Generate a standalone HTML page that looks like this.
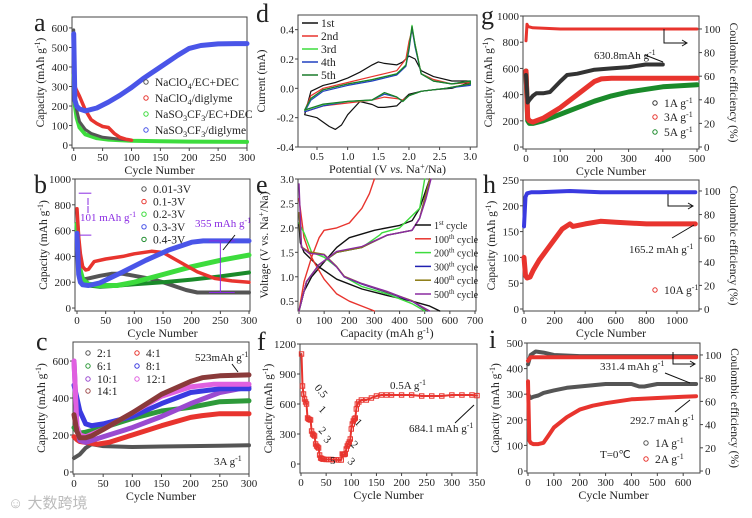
<!DOCTYPE html>
<html><head><meta charset="utf-8">
<style>
body{margin:0;background:#fff;width:752px;height:518px;overflow:hidden}
svg{display:block;font-family:"Liberation Serif",serif}
</style></head>
<body>
<svg id="fig" width="752" height="518" viewBox="0 0 752 518" xmlns="http://www.w3.org/2000/svg">
<text x="8" y="508" font-family="'Liberation Sans','Noto Sans CJK SC',sans-serif" font-size="15" fill="#bbb">☺ 大数跨境</text>
</svg>
<script>
// ---------- DATA ----------
// panel a
const aBlackX=[0,2,5,10,20,30,50,80,100];
const aBlackY=[590,250,180,120,80,60,40,30,25];
const aRedX=[0,2,5,10,20,30,40,50,60,70,80,90,100];
const aRedY=[480,300,280,250,180,130,110,95,90,60,40,30,25];
const aGreenX=[0,2,5,10,20,40,60,100,150,200,250,300];
const aGreenY=[360,200,140,90,55,35,28,22,20,18,17,16];
const aBlueX=[0,2,5,10,20,40,60,80,100,120,150,180,200,220,250,280,300];
const aBlueY=[570,230,200,185,175,190,220,255,295,340,400,460,495,510,518,520,520];
// panel b
const bBlackX=[0,5,10,20,40,60,80,100,130,150,170,190,210,250,300];
const bBlackY=[450,280,220,230,250,265,265,250,225,200,170,140,120,120,120];
const bRedX=[0,3,6,10,15,20,30,50,80,100,130,150,170,190,210,240,270,300];
const bRedY=[770,550,420,320,295,300,360,380,400,420,440,430,380,330,280,230,210,200];
const bGreenX=[0,5,10,20,40,70,100,150,200,250,300];
const bGreenY=[650,300,220,185,175,175,200,260,320,370,410];
const bBlueX=[0,3,6,10,20,40,80,120,160,200,220,250,300];
const bBlueY=[580,260,200,180,175,195,280,370,450,510,520,520,520];
const bDkX=[0,5,10,20,40,60,100,150,200,250,300];
const bDkY=[500,250,200,175,165,170,185,200,220,245,275];
// panel c
const cX1=[0,10,20,30,50,100,150,200,250,300]; const cY1=[75,95,130,150,140,135,138,140,142,145];
const cX2=[0,5,10,20,40,60,100,150,200,220,250,300]; const cY2=[190,175,165,160,150,160,200,250,295,305,315,315];
const cX3=[0,5,10,20,50,100,150,200,250,300]; const cY3=[240,220,210,215,240,290,330,350,380,385];
const cX4=[0,5,10,20,30,50,100,150,200,250,300]; const cY4=[470,400,330,260,250,260,300,370,430,450,450];
const cX5=[0,5,10,20,50,100,150,200,250,300]; const cY5=[600,250,170,160,190,240,300,370,430,460];
const cX6=[0,5,10,20,50,100,150,200,240,300]; const cY6=[600,250,200,190,230,320,410,460,475,475];
const cX7=[0,5,10,20,30,50,100,150,200,220,250,300]; const cY7=[310,220,185,185,195,230,320,420,490,510,520,525];
// panel d (CV loops)
const d1V=[0.3,0.4,0.6,0.8,1.0,1.2,1.4,1.5,1.6,1.8,1.9,2.0,2.1,2.2,2.4,2.7,3.0,3.0,2.7,2.4,2.2,2.0,1.9,1.8,1.6,1.5,1.4,1.2,1.0,0.9,0.8,0.7,0.5,0.3];
const d1I=[-0.18,-0.02,0.02,0.04,0.07,0.11,0.16,0.18,0.17,0.16,0.18,0.22,0.2,0.12,0.08,0.05,0.05,0.04,0.0,-0.01,-0.02,-0.04,-0.08,-0.12,-0.13,-0.13,-0.11,-0.09,-0.18,-0.25,-0.28,-0.26,-0.2,-0.18];
const d2V=[0.3,0.4,0.6,1.0,1.4,1.6,1.8,1.95,2.0,2.05,2.1,2.2,2.4,2.7,3.0,3.0,2.6,2.2,2.0,1.9,1.8,1.6,1.4,1.0,0.6,0.3];
const d2I=[-0.15,-0.05,0.0,0.04,0.08,0.1,0.12,0.2,0.32,0.4,0.3,0.1,0.06,0.03,0.04,0.03,0.0,-0.02,-0.05,-0.08,-0.07,-0.06,-0.08,-0.1,-0.12,-0.16];
const d3V=[0.3,0.4,0.6,1.0,1.4,1.6,1.8,1.95,2.0,2.05,2.1,2.2,2.4,2.7,3.0,3.0,2.6,2.2,2.0,1.9,1.8,1.6,1.4,1.0,0.6,0.3];
const d3I=[-0.15,-0.07,-0.01,0.03,0.06,0.08,0.1,0.16,0.28,0.43,0.3,0.1,0.05,0.03,0.05,0.03,0.0,-0.02,-0.05,-0.09,-0.06,-0.03,-0.08,-0.09,-0.11,-0.15];
const d4I=[-0.16,-0.08,-0.02,0.02,0.05,0.07,0.09,0.15,0.26,0.41,0.28,0.1,0.05,0.03,0.05,0.02,0.0,-0.02,-0.05,-0.09,-0.06,-0.04,-0.08,-0.09,-0.12,-0.16];
// panel e (charge/discharge)
const e1dC=[0,5,20,40,80,150,250,350,450,520,560]; const e1dV=[2.1,1.7,1.5,1.4,1.2,0.95,0.75,0.62,0.5,0.4,0.3];
const e1cC=[0,20,50,100,150,200,300,400,450,480,500,520]; const e1cV=[0.3,0.7,1.0,1.3,1.6,1.8,1.95,2.05,2.15,2.4,2.7,3.0];
const e2dC=[0,20,40,60,100,150,200,250,300]; const e2dV=[2.6,1.8,1.5,1.3,0.95,0.65,0.5,0.4,0.3];
const e2cC=[0,20,50,80,100,150,200,250,280,300]; const e2cV=[0.3,0.9,1.4,1.8,1.95,2.0,2.1,2.4,2.7,3.0];
const e3dC=[0,20,50,100,150,180,250,350,450,500]; const e3dV=[2.1,1.9,1.5,1.4,1.2,1.0,0.8,0.65,0.45,0.3];
const e3cC=[0,30,80,150,250,320,330,400,480,500]; const e3cV=[0.3,0.9,1.25,1.5,1.6,1.85,1.9,2.0,2.4,3.0];
const e4dC=[0,10,40,100,150,180,250,350,450,510]; const e4dV=[2.3,1.6,1.5,1.45,1.2,1.0,0.85,0.68,0.5,0.3];
const e4cC=[0,30,80,150,250,350,450,480,500,520]; const e4cV=[0.3,0.9,1.25,1.5,1.6,1.85,1.95,2.2,2.6,3.0];
const e6dC=[0,10,40,100,150,180,250,350,450,520]; const e6dV=[2.9,1.6,1.48,1.45,1.2,1.0,0.86,0.7,0.5,0.3];
const e6cC=[0,30,80,150,250,350,450,480,505,525]; const e6cV=[0.3,0.9,1.25,1.52,1.62,1.85,1.95,2.2,2.6,3.0];
// panel f (rate)
const fX=[1,3,5,7,9,11,13,15,17,19,21,23,25,27,29,31,33,35,37,39,41,43,45,50,55,60,65,70,75,80,82,84,86,88,90,92,94,96,98,100,102,104,106,108,110,112,115,120,130,140,150,160,170,180,200,220,240,260,280,300,320,340,350];
const fY=[1100,780,700,650,620,600,460,450,445,440,330,300,290,280,200,180,170,160,90,60,55,50,48,45,45,45,42,42,40,40,100,95,95,100,150,180,200,220,250,350,400,430,450,460,550,600,620,640,640,660,680,690,690,690,690,690,680,680,680,690,690,690,684];
// panel g
const gBX=[0,5,10,20,30,50,70,100,120,150,200,250,300,350,400]; const gBY=[550,340,360,390,410,410,420,500,550,560,590,600,610,630,630];
const gRX=[0,5,10,20,50,100,150,200,220,250,300,400,500]; const gRY=[580,220,200,190,220,300,400,500,520,525,525,525,525];
const gGX=[0,5,10,20,50,100,150,200,250,300,400,500]; const gGY=[580,200,180,180,200,250,300,350,390,420,460,475];
const gCEX=[0,3,6,20,100,200,300,400,500]; const gCEY=[90,104,102,101,100,100,100,100,100];
// panel h
const hCEX=[0,10,20,50,100,300,500,1000,1120]; const hCEY=[70,95,98,99,99,100,99,99,99];
const hRX=[0,10,20,40,60,100,150,200,250,300,320,400,500,600,800,1000,1120];
const hRY=[100,65,60,62,75,95,115,135,155,165,160,165,170,168,165,165,165];
// panel i
const iBX=[0,10,20,40,60,100,150,200,250,300,400,430,450,500,600,650]; const iBY=[300,285,290,295,305,315,325,330,335,340,340,330,330,340,340,340];
const iRX=[0,5,10,20,40,60,80,100,150,200,250,300,400,500,600,650]; const iRY=[350,120,110,105,105,110,140,170,210,240,255,265,280,285,290,292];
const iCEBX=[0,10,30,60,100,200,400,650]; const iCEBY=[92,100,103,102,100,99,99,99];
const iCERX=[0,10,30,100,300,650]; const iCERY=[95,98,98,98,98,98];

// ---------- DRAW ----------
const svg=document.getElementById('fig');
const NS='http://www.w3.org/2000/svg';
function mk(tag,at,par){const e=document.createElementNS(NS,tag);for(const k in at)e.setAttribute(k,at[k]);(par||svg).appendChild(e);return e;}
function txt(s,x,y,sz,anchor,par,rot){const t=mk('text',{x:x,y:y,'font-size':sz,'text-anchor':anchor||'start',fill:'#222'},par);if(rot)t.setAttribute('transform','rotate('+rot+' '+x+' '+y+')');t.innerHTML=s;return t;}

function panel(p){
  const g=mk('g',{});
  
  
  const sx=v=>p.x0+(v-p.xd[0])/(p.xd[1]-p.xd[0])*(p.x1-p.x0);
  const sy=v=>p.y1-(v-p.yd[0])/(p.yd[1]-p.yd[0])*(p.y1-p.y0);
  const syR=p.yR?(v=>p.y1-(v-p.yR[0])/(p.yR[1]-p.yR[0])*(p.y1-p.y0)):null;
  const box=mk('rect',{x:p.x0,y:p.y0,width:p.x1-p.x0,height:p.y1-p.y0,fill:'none',stroke:'#444','stroke-width':1},g);
  
  
  p.xt.forEach((v,i)=>{const X=sx(v);mk('line',{x1:X,x2:X,y1:p.y1,y2:p.y1+3,stroke:'#444'},g);
    const t=txt(p.xl?p.xl[i]:v,X,p.y1+13,11,'middle',g);
    
    });
  p.yt.forEach((v,i)=>{const Y=sy(v);mk('line',{x1:p.x0-3,x2:p.x0,y1:Y,y2:Y,stroke:'#444'},g);
    const t=txt(p.yl?p.yl[i]:v,p.x0-4,Y+4,11,'end',g);
    
    });
  if(p.yR){[0,20,40,60,80,100].forEach(v=>{const Y=syR(v);mk('line',{x1:p.x1,x2:p.x1+3,y1:Y,y2:Y,stroke:'#444'},g);
    const t=txt(v,p.x1+5,Y+4,11,'start',g);
    
    });
    const rt=txt('Coulombic efficiency (%)',p.x1+31,(p.y0+p.y1)/2,11.5,'middle',g,90);
    
    }
  const xt=txt(p.xtitle,(p.x0+p.x1)/2,p.y1+26,12,'middle',g);
  
  
  const yt=txt(p.ytitle,p.x0-(p.yoff||28),(p.y0+p.y1)/2,11.5,'middle',g,-90);
  
  
  const L=txt(p.id,p.lx,p.ly,26,'start',g);
  
  
  return {g,sx,sy,syR};
}
function series(P,xs,ys,col,w,name,yfun){
  const f=yfun||P.sy;
  const pts=xs.map((x,i)=>P.sx(x).toFixed(1)+','+f(ys[i]).toFixed(1)).join(' ');
  const l=mk('polyline',{points:pts,fill:'none',stroke:col,'stroke-width':w,'stroke-linejoin':'round','stroke-linecap':'round'},P.g);
  
  
  return l;
}
function legendMark(P,x,y,col,label,sz,line){
  if(line){mk('line',{x1:x-8,x2:x+8,y1:y-4,y2:y-4,stroke:col,'stroke-width':1.5},P.g);}
  else mk('circle',{cx:x,cy:y-4,r:2.2,fill:'none',stroke:col},P.g);
  const t=txt(label,x+(line?11:9),y,sz||11.5,'start',P.g);
  
  
}
const cap='Capacity (mAh g<tspan font-size="8" dy="-4">-1</tspan><tspan dy="4">)</tspan>';
const gm1=' g<tspan font-size="8" dy="-4">-1</tspan>';
const ticks300=[0,50,100,150,200,250,300];

// a
const A=panel({id:'a',x0:72,x1:247,y0:17,y1:148,xd:[-3,300],yd:[-15,656],xt:ticks300,yt:[0,100,200,300,400,500,600],xtitle:'Cycle Number',ytitle:cap,lx:34,ly:31});
series(A,aGreenX,aGreenY,'#3ddc3d',4,'series-nasoclf3-ec');
series(A,aBlackX,aBlackY,'#555',3,'series-naclo4-ec');
series(A,aRedX,aRedY,'#e8342e',3.5,'series-naclo4-diglyme');
series(A,aBlueX,aBlueY,'#4a55e8',5,'series-nasoclf3-diglyme');
legendMark(A,146,86,'#555','NaClO<tspan font-size="8" dy="3">4</tspan><tspan dy="-3">/EC+DEC</tspan>');
legendMark(A,146,102,'#e8342e','NaClO<tspan font-size="8" dy="3">4</tspan><tspan dy="-3">/diglyme</tspan>');
legendMark(A,146,118,'#3ddc3d','NaSO<tspan font-size="8" dy="3">3</tspan><tspan dy="-3">CF</tspan><tspan font-size="8" dy="3">3</tspan><tspan dy="-3">/EC+DEC</tspan>');
legendMark(A,146,134,'#4a55e8','NaSO<tspan font-size="8" dy="3">3</tspan><tspan dy="-3">CF</tspan><tspan font-size="8" dy="3">3</tspan><tspan dy="-3">/diglyme</tspan>');

// b
const B=panel({id:'b',x0:75,x1:250,y0:179,y1:311,xd:[-3.5,301.7],yd:[-23,1000],xt:ticks300,yt:[0,200,400,600,800,1000],xtitle:'Cycle Number',ytitle:cap,lx:34,ly:193});
series(B,bBlackX,bBlackY,'#555',4,'series-0.01-3v');
series(B,bDkX,bDkY,'#1a8a2a',4,'series-0.4-3v');
series(B,bGreenX,bGreenY,'#3ddc3d',5,'series-0.2-3v');
series(B,bRedX,bRedY,'#e8342e',3.5,'series-0.1-3v');
series(B,bBlueX,bBlueY,'#4a55e8',5,'series-0.3-3v');
['0.01-3V','0.1-3V','0.2-3V','0.3-3V','0.4-3V'].forEach((s,i)=>legendMark(B,144,193+i*12.6,['#555','#e8342e','#3ddc3d','#4a55e8','#1a8a2a'][i],s));
[[890],[565]].forEach(v=>mk('line',{x1:B.sx(3),x2:B.sx(25),y1:B.sy(v[0]),y2:B.sy(v[0]),stroke:'#8a2be2'},B.g));
mk('path',{d:'M88,198 v7 M88,213 v-7',stroke:'#8a2be2',fill:'none'},B.g);
const t1=txt('101 mAh'+gm1,80,221,11,'start',B.g);t1.setAttribute('fill','#8a2be2');


mk('line',{x1:B.sx(250),x2:B.sx(250),y1:B.sy(520),y2:B.sy(120),stroke:'#8a2be2'},B.g);
mk('line',{x1:B.sx(230),x2:B.sx(275),y1:B.sy(520),y2:B.sy(520),stroke:'#8a2be2'},B.g);
mk('line',{x1:B.sx(230),x2:B.sx(275),y1:B.sy(120),y2:B.sy(120),stroke:'#8a2be2'},B.g);
const t2=txt('355 mAh'+gm1,195,227,11,'start',B.g);t2.setAttribute('fill','#8a2be2');


mk('line',{x1:235,y1:235,x2:223,y2:250,stroke:'#111','stroke-width':1},B.g);

// c
const C=panel({id:'c',x0:73,x1:249,y0:342,y1:474,xd:[-1.7,300],yd:[-11,703],xt:ticks300,yt:[0,200,400,600],xtitle:'Cycle Number',ytitle:cap,lx:36,ly:350});
series(C,cX1,cY1,'#555',4,'series-2-1');
series(C,cX2,cY2,'#e8342e',5,'series-4-1');
series(C,cX3,cY3,'#2e9a3a',5,'series-6-1');
series(C,cX5,cY5,'#9a4ad0',5,'series-10-1');
series(C,cX4,cY4,'#3a3ae0',5,'series-8-1');
series(C,cX6,cY6,'#e060e0',5,'series-12-1');
series(C,cX7,cY7,'#8a3a3a',5,'series-14-1');
[['2:1',88,357,'#555'],['6:1',88,370,'#2e9a3a'],['10:1',88,383,'#9a4ad0'],['14:1',88,395,'#a05050'],['4:1',137,357,'#e8342e'],['8:1',137,370,'#3a3ae0'],['12:1',137,383,'#e060e0']].forEach(r=>legendMark(C,r[1],r[2],r[3],r[0]));
const t3=txt('523mAh'+gm1,195,361,11,'start',C.g);


mk('line',{x1:232,y1:364,x2:238,y2:372,stroke:'#111'},C.g);
const t4=txt('3A'+gm1,214,465,11,'start',C.g);



// d
const D=panel({id:'d',x0:298,x1:477,y0:15,y1:147,xd:[0.19,3.11],yd:[-0.4,0.5],xt:[0.5,1,1.5,2,2.5,3],xl:['0.5','1.0','1.5','2.0','2.5','3.0'],yt:[-0.4,-0.2,0,0.2,0.4],yl:['-0.4','-0.2','0.0','0.2','0.4'],xtitle:'Potential (V <tspan font-style="italic">vs.</tspan> Na<tspan font-size="8" dy="-4">+</tspan><tspan dy="4">/Na)</tspan>',ytitle:'Current (mA)',yoff:33,lx:256,ly:22});
series(D,d1V,d1I,'#111',1.2,'cv-cycle-1');
series(D,d2V,d2I,'#e8342e',1.2,'cv-cycle-2');
series(D,d2V,d4I,'#2040c0',1.2,'cv-cycle-4');
series(D,d2V,d3I,'#3ddc3d',1.2,'cv-cycle-3');
series(D,d2V,d3I.map(v=>v*0.98),'#1a7a2a',1.2,'cv-cycle-5');
['1st','2nd','3rd','4th','5th'].forEach((s,i)=>legendMark(D,310,27+i*13,['#111','#e8342e','#3ddc3d','#2040c0','#1a7a2a'][i],s,11.5,true));

// e
const E=panel({id:'e',x0:298,x1:476,y0:179,y1:311,xd:[-4,704],yd:[0.3,3.0],xt:[0,100,200,300,400,500,600,700],yt:[0.5,1,1.5,2,2.5,3],yl:['0.5','1.0','1.5','2.0','2.5','3.0'],xtitle:'Capacity (mAh g<tspan font-size="8" dy="-4">-1</tspan><tspan dy="4">)</tspan>',ytitle:'Voltage (V vs. Na<tspan font-size="8" dy="-4">+</tspan><tspan dy="4">/Na)</tspan>',yoff:30,lx:256,ly:193});
[[e1dC,e1dV,e1cC,e1cV,'#111','1st'],[e2dC,e2dV,e2cC,e2cV,'#e8342e','100th'],[e3dC,e3dV,e3cC,e3cV,'#3ddc3d','200th'],[e4dC,e4dV,e4cC,e4cV,'#2020b0','300th'],[e4dC,e4dV.map(v=>v+0.01),e4cC,e4cV,'#8a7a10','400th'],[e6dC,e6dV,e6cC,e6cV,'#8a2aa0','500th']].forEach(s=>{
  series(E,s[0],s[1],s[4],1.4,'discharge-'+s[5]);series(E,s[2],s[3],s[4],1.4,'charge-'+s[5]);});
['1','100','200','300','400','500'].forEach((s,i)=>legendMark(E,423,229+i*13.8,['#111','#e8342e','#3ddc3d','#2020b0','#8a7a10','#8a2aa0'][i],s+'<tspan font-size="7" dy="-4">'+(i==0?'st':'th')+'</tspan><tspan dy="4"> cycle</tspan>',10,true));

// f
const F=panel({id:'f',x0:300,x1:477,y0:344,y1:473,xd:[-2,350],yd:[-90,1200],xt:[0,50,100,150,200,250,300,350],yt:[0,300,600,900,1200],xtitle:'Cycle Number',ytitle:cap,lx:257,ly:350});
fX.forEach((x,i)=>{const r=mk('rect',{x:F.sx(x)-2.2,y:F.sy(fY[i])-2.2,width:4.4,height:4.4,fill:'none',stroke:'#e8342e','stroke-width':1},F.g);
  
  });
series(F,fX,fY,'#e8342e',2,'rate-series');
[['0.5',314,388,50],['1',318,410,45],['2',318,431,45],['3',323,440,45],['5',330,464,0],['3',347,462,45],['2',350,445,45],['1',354,423,45]].forEach(a=>{const t=txt(a[0],a[1],a[2],11,'start',F.g,a[3]);
  
  });
const t5=txt('0.5A'+gm1,390,389,11,'start',F.g);


const t6=txt('684.1 mAh'+gm1,409,432,11,'start',F.g);


mk('line',{x1:455,y1:423,x2:474,y2:405,stroke:'#111'},F.g);

// g
const G=panel({id:'g',x0:523,x1:699,y0:16,y1:149,xd:[-8.8,505.8],yd:[-15,1000],yR:[-1.7,111],xt:[0,100,200,300,400,500],yt:[0,200,400,600,800,1000],xtitle:'Cycle Number',ytitle:cap,yoff:31,lx:481,ly:24});
series(G,gCEX,gCEY,'#e8342e',3,'ce-series',G.syR);
series(G,gGX,gGY,'#1a8a2a',5,'series-5a');
series(G,gRX,gRY,'#e8342e',5,'series-3a');
series(G,gBX,gBY,'#333',4,'series-1a');
legendMark(G,655,107,'#333','1A'+gm1);legendMark(G,655,121,'#e8342e','3A'+gm1);legendMark(G,655,136,'#1a8a2a','5A'+gm1);
const t7=txt('630.8mAh'+gm1,594,59,11,'start',G.g);


mk('line',{x1:645,y1:55,x2:663,y2:62,stroke:'#111'},G.g);
mk('path',{d:'M664,29 V43 H686 M682,40 l5,3 l-5,3',fill:'none',stroke:'#111'},G.g);

// h
const H=panel({id:'h',x0:523,x1:699,y0:180,y1:311,xd:[-6.5,1144],yd:[-3.9,250],yR:[-1.7,109.3],xt:[0,200,400,600,800,1000],yt:[0,50,100,150,200,250],xtitle:'Cycle Number',ytitle:cap,lx:483,ly:193});
series(H,hCEX,hCEY,'#3a3ae0',4,'ce-series',H.syR);
series(H,hRX,hRY,'#e8342e',5,'series-10a');
legendMark(H,655,294,'#e8342e','10A'+gm1);
const t8=txt('165.2 mAh'+gm1,629,253,11,'start',H.g);


mk('line',{x1:672,y1:238,x2:694,y2:225,stroke:'#111'},H.g);
mk('path',{d:'M668,194 V206 H692 M688,203 l5,3 l-5,3',fill:'none',stroke:'#111'},H.g);

// i
const I=panel({id:'i',x0:527,x1:700,y0:343,y1:473,xd:[-3.8,665],yd:[-7.8,500],yR:[-1.7,110.3],xt:[0,100,200,300,400,500,600],yt:[0,100,200,300,400,500],xtitle:'Cycle Number',ytitle:cap,lx:489,ly:348});
series(I,iCEBX,iCEBY,'#555',4,'ce-1a',I.syR);
series(I,iCERX,iCERY,'#e8342e',4,'ce-2a',I.syR);
series(I,iBX,iBY,'#555',4,'series-1a');
series(I,iRX,iRY,'#e8342e',4,'series-2a');
legendMark(I,646,447,'#555','1A'+gm1);legendMark(I,646,463,'#e8342e','2A'+gm1);
const t9=txt('T=0℃',600,458,11,'start',I.g);


const t10=txt('331.4 mAh'+gm1,600,370,11,'start',I.g);


const t11=txt('292.7 mAh'+gm1,630,424,11,'start',I.g);


mk('line',{x1:665,y1:373,x2:690,y2:383,stroke:'#111'},I.g);
mk('line',{x1:675,y1:412,x2:690,y2:400,stroke:'#111'},I.g);
mk('path',{d:'M673,352 V364 H694 M690,361 l5,3 l-5,3',fill:'none',stroke:'#111'},I.g);
</script>
</body></html>
